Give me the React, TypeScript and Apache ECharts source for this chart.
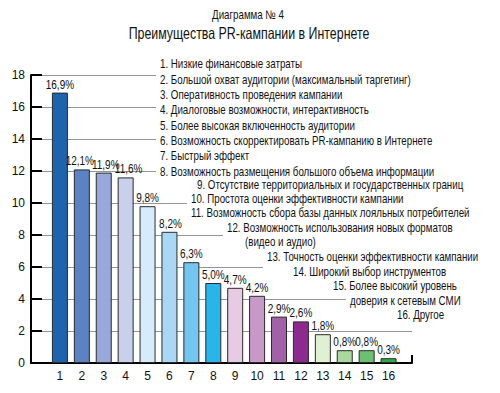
import React, { useEffect, useRef } from "react";
import * as echarts from "echarts";

const titleSmall = "Диаграмма № 4";
const titleMain = "Преимущества PR-кампании в Интернете";

const categories = ["1", "2", "3", "4", "5", "6", "7", "8", "9", "10", "11", "12", "13", "14", "15", "16"];
const values = [16.9, 12.1, 11.9, 11.6, 9.8, 8.2, 6.3, 5.0, 4.7, 4.2, 2.9, 2.6, 1.8, 0.8, 0.8, 0.3];
const barColors = [
  "#1e63ae", "#5a82c4", "#97a9d8", "#c8d0ec", "#d8ebfa", "#a9d8f5", "#72c6f0", "#27b5ec",
  "#e6cbe3", "#c899c8", "#a260a8", "#8c2a8d", "#dff0d3", "#a8d89c", "#6cc071", "#2eab46",
];
const yTicks = [0, 2, 4, 6, 8, 10, 12, 14, 16, 18];

const legendLines = [
  "1. Низкие финансовые затраты",
  "2. Большой охват аудитории (максимальный таргетинг)",
  "3. Оперативность проведения кампании",
  "4. Диалоговые возможности, интерактивность",
  "5. Более высокая включенность аудитории",
  "6. Возможность скорректировать PR-кампанию в Интернете",
  "7. Быстрый эффект",
  "8. Возможность размещения большого объема информации",
  "9. Отсутствие территориальных и государственных границ",
  "10. Простота оценки эффективности кампании",
  "11. Возможность сбора базы данных лояльных потребителей",
  "12. Возможность использования новых форматов",
  "(видео и аудио)",
  "13. Точность оценки эффективности кампании",
  "14. Широкий выбор инструментов",
  "15. Более высокий уровень",
  "доверия к сетевым СМИ",
  "16. Другое",
];

// layout (x of text start, y of text centre) for each legend line
const legendLayout: [number, number][] = [
  [160, 64], [160, 79.3], [160, 94.6], [160, 109.9], [160, 125.2], [160, 140.5], [160, 155.8], [160, 171.1],
  [197, 184.5], [191, 199], [191, 213], [227, 227.5], [245, 242], [267, 257], [293, 271.5], [333, 286],
  [350, 300.5], [397, 315],
];
// small horizontal nudges of the value labels (layout only)
const labelNudge = [0, -2, 2, 3, 0, 1, 0, 0, 0, 0, 0, 0, 0, 0, 0, 0];

const FONT = "'Liberation Sans', Arial, sans-serif";
const SX = 0.78;

export default function App() {
  const ref = useRef<HTMLDivElement>(null);
  useEffect(() => {
    if (!ref.current) return;
    const chart = echarts.init(ref.current, undefined, { renderer: "svg" });
    const fmt = (v: number) => v.toFixed(1).replace(".", ",") + "%";
    const titleGraphics = [
      {
        type: "text",
        x: 248,
        y: 15,
        scaleX: 0.78,
        style: { text: titleSmall, fill: "#111", font: `12.5px ${FONT}`, align: "center", verticalAlign: "middle" },
      },
      {
        type: "text",
        x: 249,
        y: 33,
        scaleX: 0.75,
        style: { text: titleMain, fill: "#111", font: `16.5px ${FONT}`, align: "center", verticalAlign: "middle" },
      },
    ];
    const legendData = legendLines.map(() => [0, 0]);
    chart.setOption({
      animation: false,
      backgroundColor: "#fff",
      grid: { left: 31, right: 88, top: 75, bottom: 30 },
      xAxis: {
        type: "value",
        min: -1.32,
        max: 16.07,
        axisLine: { show: true, onZero: false, lineStyle: { color: "#000", width: 2 } },
        axisTick: { show: true, inside: true, length: 8, customValues: [16.07], lineStyle: { color: "#000", width: 2 } },
        splitLine: { show: false },
        axisLabel: {
          customValues: categories.map((_, i) => i),
          formatter: (v: number) => categories[Math.round(v)] ?? "",
          fontFamily: FONT,
          fontSize: 12,
          color: "#111",
          margin: 7,
        },
      },
      yAxis: {
        type: "value",
        min: 0,
        max: 18,
        interval: 2,
        axisLine: { show: true, onZero: false, lineStyle: { color: "#000", width: 2 } },
        axisTick: { show: true, inside: true, length: 11, lineStyle: { color: "#000", width: 2 } },
        splitLine: { show: true, lineStyle: { color: "#969696", width: 1 } },
        axisLabel: {
          customValues: yTicks,
          fontFamily: FONT,
          fontSize: 12,
          color: "#111",
          margin: 6,
        },
      },
      series: [
        {
          type: "bar",
          z: 3,
          barWidth: 16,
          data: values.map((v, i) => ({
            value: [i, v],
            itemStyle: { color: barColors[i], borderColor: "#2a2a2a", borderWidth: 1 },
          })),
        },
        {
          // white boxes behind the legend lines (they hide the grid lines, as in the original)
          type: "custom",
          z: 4,
          silent: true,
          data: legendData,
          renderItem: (params: any) => {
            const [x, y] = legendLayout[params.dataIndex];
            return {
              type: "rect",
              shape: { x: x - 4, y: y - 7, width: 416 - x, height: 18 },
              style: { fill: "#fff" },
            };
          },
        },
        {
          type: "custom",
          z: 5,
          silent: true,
          data: legendData,
          renderItem: (params: any) => {
            const [x, y] = legendLayout[params.dataIndex];
            return {
              type: "text",
              x,
              y,
              scaleX: SX,
              style: {
                text: legendLines[params.dataIndex],
                fill: "#111",
                font: `12.5px ${FONT}`,
                align: "left",
                verticalAlign: "middle",
              },
            };
          },
        },
        {
          type: "custom",
          z: 7,
          data: values.map((v, i) => [i, v]),
          renderItem: (params: any, api: any) => {
            const i = api.value(0);
            const v = api.value(1);
            const pt = api.coord([i, v]);
            return {
              type: "text",
              x: pt[0] + labelNudge[params.dataIndex],
              y: pt[1] - 2,
              scaleX: 0.8,
              style: {
                text: fmt(v),
                fill: "#111",
                font: `12.5px ${FONT}`,
                align: "center",
                verticalAlign: "bottom",
              },
            };
          },
        },
      ],
      graphic: titleGraphics,
    });
    return () => chart.dispose();
  }, []);
  return <div ref={ref} style={{ position: "fixed", left: 0, top: 0, width: 500, height: 393 }} />;
}
